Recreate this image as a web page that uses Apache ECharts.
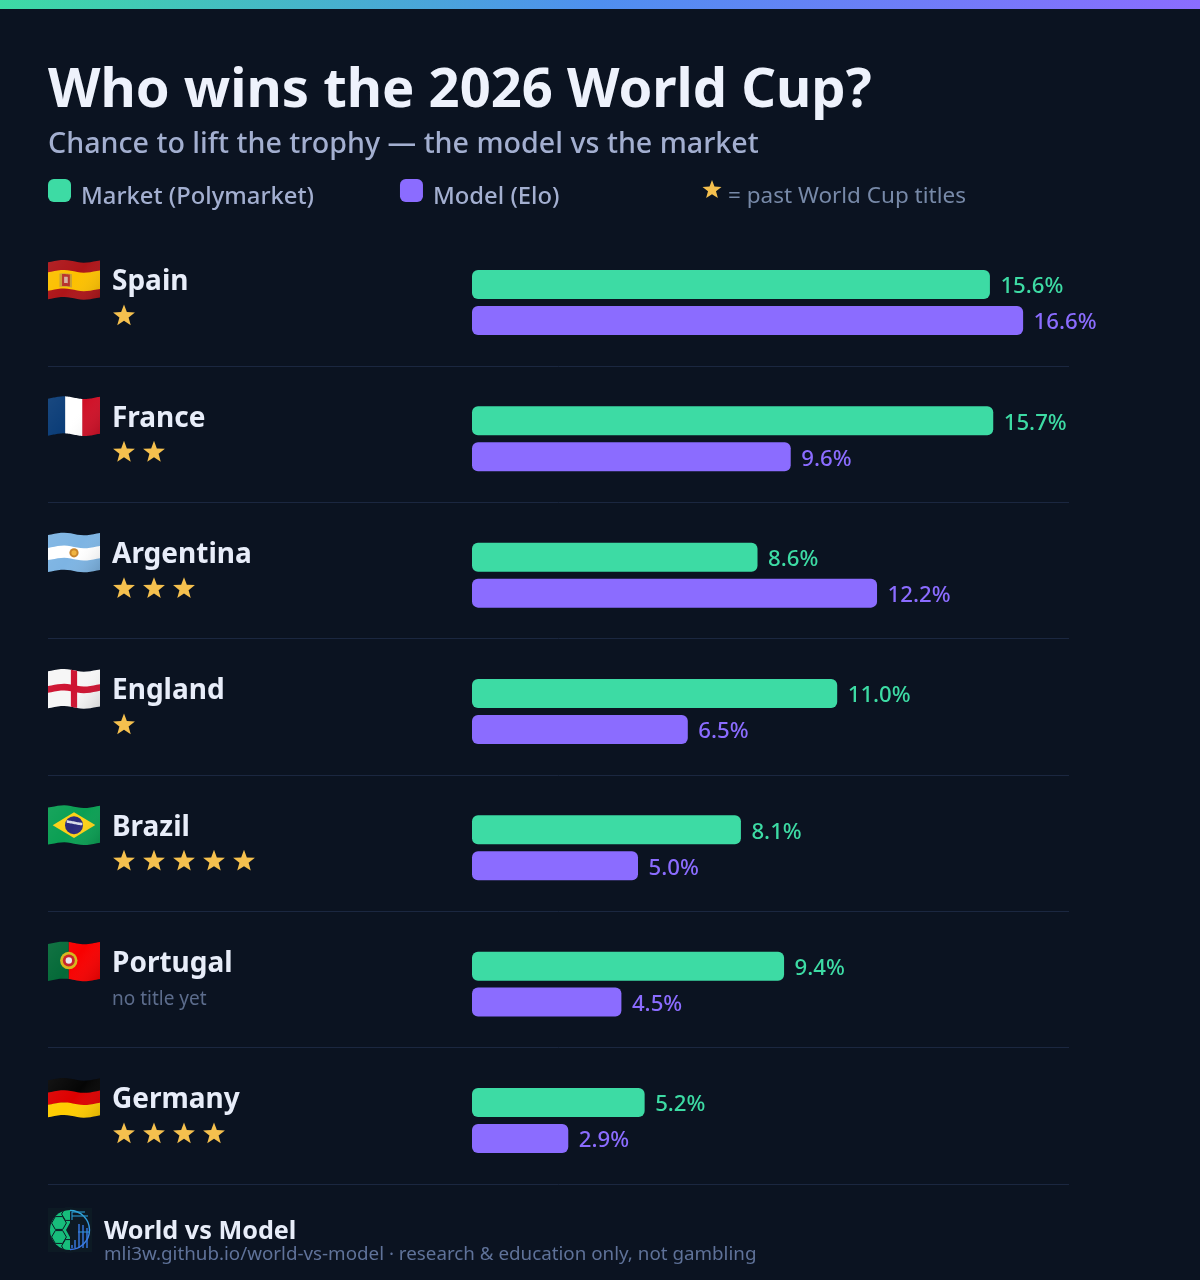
<!DOCTYPE html>
<html><head><meta charset="utf-8">
<style>html,body{margin:0;padding:0;background:#0b1321}#c{width:1200px;height:1280px}</style>
<script src="https://cdn.jsdelivr.net/npm/echarts@6/dist/echarts.min.js"></script>
</head><body><div id="c"></div>
<script>
var countries = ['Spain','France','Argentina','England','Brazil','Portugal','Germany'];
var flagCodes = ['es','fr','ar','en','br','pt','de'];
var titles = [1,2,3,1,5,0,4];
var market = [15.6,15.7,8.6,11.0,8.1,9.4,5.2];
var model = [16.6,9.6,12.2,6.5,5.0,4.5,2.9];
var FONT = '"Noto Sans",sans-serif';
var GREEN='#3ddba4', PURPLE='#8b6cff', BG='#0b1321', GOLD='#f5c04e', SEP='#1b2740';
var LG=echarts.graphic.LinearGradient;

function starPoints(cx,cy,R){
  var p=[];for(var i=0;i<10;i++){var r=i%2?R*0.42:R;var a=-Math.PI/2+i*Math.PI/5;p.push([cx+r*Math.cos(a),cy+r*Math.sin(a)]);}
  return p;
}
function wave(u){return 1.35-1.35*Math.cos(2*Math.PI*(u-0.3)/0.8);}
var FW=52,FH=37;
function fp(x0,y0,u,v){return [x0+u*FW,y0+v*FH+wave(u)];}
function patch(x0,y0,u0,v0,u1,v1,color,z){
  var pts=[],n=16,i;
  for(i=0;i<=n;i++)pts.push(fp(x0,y0,u0+(u1-u0)*i/n,v0));
  for(i=n;i>=0;i--)pts.push(fp(x0,y0,u0+(u1-u0)*i/n,v1));
  return {type:'polygon',shape:{points:pts},style:{fill:color},z2:z||1};
}
function flag(code,x,y){
  var o=[],P=function(a,b,c,d,col,z){o.push(patch(x,y,a,b,c,d,col,z));};
  var C=function(u,v,r,col,z){var q=fp(x,y,u,v);o.push({type:'circle',shape:{cx:q[0],cy:q[1],r:r},style:{fill:col},z2:z||3});};
  if(code==='es'){P(0,0,1,1,'#ad1519');P(0,.27,1,.77,'#fcc000',2);P(.22,.36,.46,.72,'#c8a035',3);P(.27,.38,.42,.7,'#b8322c',4);P(.31,.45,.38,.62,'#d9b0a0',5);}
  if(code==='fr'){P(0,0,.34,1,'#0b3d78');P(.33,0,.67,1,'#ffffff',2);P(.66,0,1,1,'#d01027',3);}
  if(code==='ar'){P(0,0,1,1,'#7db4e3');P(0,.35,1,.68,'#ffffff',2);C(.5,.51,4.6,'#c9852a');C(.5,.51,2.6,'#f0b440',4);}
  if(code==='en'){P(0,0,1,1,'#f6f6f6');P(.44,0,.56,1,'#ce1230',2);P(0,.4,1,.58,'#ce1230',3);}
  if(code==='br'){P(0,0,1,1,'#0a9f53');
    var d=[[.09,.5],[.5,.15],[.91,.5],[.5,.85]].map(function(a){return fp(x,y,a[0],a[1]);});
    o.push({type:'polygon',shape:{points:d},style:{fill:'#fcd116'},z2:2});C(.5,.5,9,'#2b2a7c');
    P(.36,.4,.66,.47,'#d8dbe8',4);}
  if(code==='pt'){P(0,0,.4,1,'#046a38');P(.4,0,1,1,'#f80000',2);C(.4,.5,8.7,'#d6b71c');C(.4,.5,6,'#c8222a',4);C(.4,.5,3.2,'#e8e8f0',5);}
  if(code==='de'){P(0,0,1,.34,'#050505');P(0,.33,1,.67,'#dd0000',2);P(0,.66,1,1,'#ffcc00',3);}
  o.push(patch(x,y,0,0,1,1,new LG(0,0,1,1,[{offset:0,color:'rgba(255,255,255,0.06)'},{offset:.5,color:'rgba(255,255,255,0)'},{offset:1,color:'rgba(0,0,0,0.14)'}]),9));
  return o;
}
function rowRender(params,api){
  var i=api.value(0);
  var cy=api.coord([0,countries[i]])[1];
  var sepY=Math.floor(cy+63.6)+0.5, ch=[];
  ch=ch.concat(flag(flagCodes[i],48,cy-42.5));
  ch.push({type:'text',style:{x:112,y:cy-20,text:countries[i],font:'700 28px '+FONT,fill:'#e8edf9',verticalAlign:'middle'}});
  if(titles[i]===0){
    ch.push({type:'text',style:{x:112,y:cy+15,text:'no title yet',font:'400 19px '+FONT,fill:'#5c6c8c',verticalAlign:'middle'}});
  }else{
    for(var s=0;s<titles[i];s++){
      ch.push({type:'polygon',shape:{points:starPoints(124+30*s,cy+13.5,11.5)},style:{fill:GOLD}});
    }
  }
  ch.push({type:'line',shape:{x1:48,y1:sepY,x2:1069,y2:sepY},style:{stroke:SEP,lineWidth:1}});
  return {type:'group',children:ch};
}
var chart=echarts.init(document.getElementById('c'),null,{renderer:'canvas'});
var rows=countries.map(function(c,i){return [i];});
function lbl(col){return {show:true,position:'right',distance:10.5,offset:[0,2.5],color:col,fontFamily:FONT,fontSize:22.2,fontWeight:500,formatter:function(p){return p.value.toFixed(1)+'%';}};}

var LOGO_BLUE=new LG(0,0,0,1,[{offset:0,color:'#2fb0dc'},{offset:1,color:'#3a6fe6'}]);
var LOGO_BG='#0d1a24';
var logo=[
  {type:'rect',shape:{x:48,y:1208,width:44,height:44},style:{fill:LOGO_BG}},
  {type:'sector',shape:{cx:70,cy:1230,r:20,startAngle:Math.PI/2,endAngle:Math.PI*3/2},style:{fill:'#17bd7b'}}
];
[[59,1223],[59,1237],[69,1214],[69,1246]].forEach(function(c){
  var h=[];for(var k=0;k<6;k++){var a=k*Math.PI/3;h.push([c[0]+7.4*Math.cos(a),c[1]+7.4*Math.sin(a)]);}
  logo.push({type:'polygon',shape:{points:h},style:{fill:'none',stroke:LOGO_BG,lineWidth:1}});
});
logo.push({type:'polygon',shape:{points:[[71,1221],[66,1230],[71,1239]]},style:{fill:LOGO_BG}});
logo.push({type:'arc',shape:{cx:70,cy:1230,r:19.5,startAngle:-Math.PI/2,endAngle:Math.PI/2},style:{stroke:LOGO_BLUE,fill:'none',lineWidth:1.4}});
[[72,1212,72,1220],[72,1212,85,1212],[72,1216,88,1216],[78,1232,90,1232]].forEach(function(l){
  logo.push({type:'line',shape:{x1:l[0],y1:l[1],x2:l[2],y2:l[3]},style:{stroke:'#2a9ad0',lineWidth:1.1}});
});
[[72,1245],[75,1240],[79,1224],[83,1225],[87,1228]].forEach(function(b){
  logo.push({type:'line',shape:{x1:b[0],y1:b[1],x2:b[0],y2:1248},style:{stroke:'#3a7ce6',lineWidth:1.4}});
});
logo.forEach(function(g){g.z=5;});

chart.setOption({
  animation:false,
  backgroundColor:BG,
  textStyle:{fontFamily:FONT},
  title:{left:48,top:55,padding:0,text:'Who wins the 2026 World Cup?',itemGap:-4,
    textStyle:{color:'#eef2fc',fontSize:54.3,fontWeight:700,fontFamily:FONT,lineHeight:74},
    subtext:'Chance to lift the trophy — the model vs the market',
    subtextStyle:{color:'#a3afd0',fontSize:28.65,fontWeight:500,fontFamily:FONT,lineHeight:40}},
  legend:{left:48,top:175,padding:0,itemWidth:23,itemHeight:23,itemGap:86,icon:'roundRect',selectedMode:false,
    formatter:function(name){return '{s| }\n{a|'+name+'}';},
    textStyle:{color:'#a3afd0',fontFamily:FONT,
      rich:{s:{fontSize:1,lineHeight:14},
            a:{color:'#a3afd0',fontSize:23.8,fontWeight:500,fontFamily:FONT,lineHeight:30,padding:[0,0,0,5]}}},
    data:['Market (Polymarket)','Model (Elo)']},
  grid:{left:472,width:597.6,top:234.33,height:954.3,containLabel:false},
  xAxis:{type:'value',min:0,max:18,show:false},
  yAxis:{type:'category',inverse:true,data:countries,show:false},
  series:[
    {name:'Market (Polymarket)',type:'bar',data:market,barWidth:29,barGap:'24%',itemStyle:{color:GREEN,borderRadius:6},label:lbl(GREEN)},
    {name:'Model (Elo)',type:'bar',data:model,barWidth:29,itemStyle:{color:PURPLE,borderRadius:6},label:lbl(PURPLE)},
    {type:'custom',data:rows,encode:{x:-1,y:-1},renderItem:rowRender,silent:true,clip:false,z:1}
  ],
  graphic:[
    {type:'rect',shape:{x:0,y:0,width:1200,height:9},z:10,style:{fill:new LG(0,0,1,0,[{offset:0,color:GREEN},{offset:.5,color:'#4f8ff0'},{offset:1,color:PURPLE}])}},
    {type:'polygon',shape:{points:starPoints(712,190,10)},style:{fill:GOLD}},
    {type:'text',style:{x:728,y:197,text:'= past World Cup titles',font:'400 22.5px '+FONT,fill:'#7789a8',verticalAlign:'middle'}},
    {type:'text',style:{x:104,y:1231.5,text:'World vs Model',font:'700 25.2px '+FONT,fill:'#e8edf9',verticalAlign:'middle'}},
    {type:'text',style:{x:104,y:1254.5,text:'mli3w.github.io/world-vs-model · research & education only, not gambling',font:'400 18.8px '+FONT,fill:'#5f7299',verticalAlign:'middle'}}
  ].concat(logo)
});
</script></body></html>
